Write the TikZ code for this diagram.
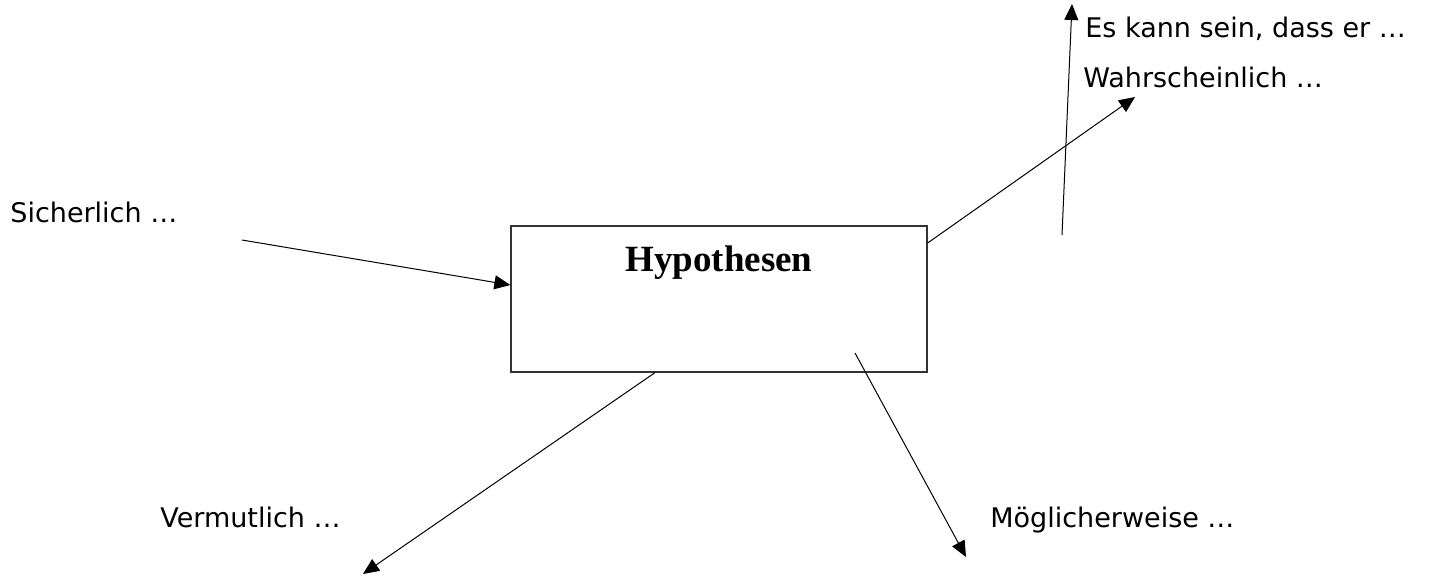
\documentclass[tikz,border=0pt]{standalone}
\usepackage{fontspec}
\setmainfont{DejaVu Sans}
\newfontfamily\titlefont{Liberation Serif}
\usetikzlibrary{arrows.meta}

\tikzset{
  hypbox/.style={draw=black!80, line width=0.6pt, minimum width=208pt, minimum height=73pt, inner sep=0pt},
  hyptitle/.style={anchor=north, inner sep=0pt, font=\titlefont\fontsize{18.5}{22}\selectfont\bfseries},
  phrase/.style={anchor=base west, inner sep=0pt, font=\fontsize{13.5}{16}\selectfont},
  pfeil/.style={line width=0.5pt, -{Triangle[length=8pt,width=7pt]}}
}

\begin{document}
\begin{tikzpicture}[x=0.5pt,y=0.5pt,yscale=-1,xscale=1]
		\useasboundingbox (0,0) rectangle (1429,575);

		% Box in the middle
		\node[hypbox] (hyp) at (719,299) {};
		\node[hyptitle] (hyptext) at (719,245) {Hypothesen};

		% Phrases round the box
		\node[phrase] (sicher) at (10,222) {Sicherlich …};
		\node[phrase] (kann) at (1085,37) {Es kann sein, dass er …};
		\node[phrase] (wahr) at (1083,87) {Wahrscheinlich …};
		\node[phrase] (vermut) at (160,527) {Vermutlich …};
		\node[phrase] (moegl) at (990,527) {Möglicherweise …};

		% Free ends of the arrows
		\coordinate (sicherstart) at (242,240);
		\coordinate (vermutend) at (363,574);
		\coordinate (moeglstart) at (855,353);
		\coordinate (moeglend) at (966,557);
		\coordinate (wahrend) at (1135,97);
		\coordinate (kannstart) at (1062,235);
		\coordinate (kannend) at (1072,4);

		% Arrows
		\draw[pfeil] (sicherstart) -- (hyp.west |- 0,285);
		\draw[pfeil] (hyp.south -| 655,0) -- (vermutend);
		\draw[pfeil] (moeglstart) -- (moeglend);
		\draw[pfeil] (hyp.east |- 0,243) -- (wahrend);
		\draw[pfeil] (kannstart) -- (kannend);
	\end{tikzpicture}
\end{document}
